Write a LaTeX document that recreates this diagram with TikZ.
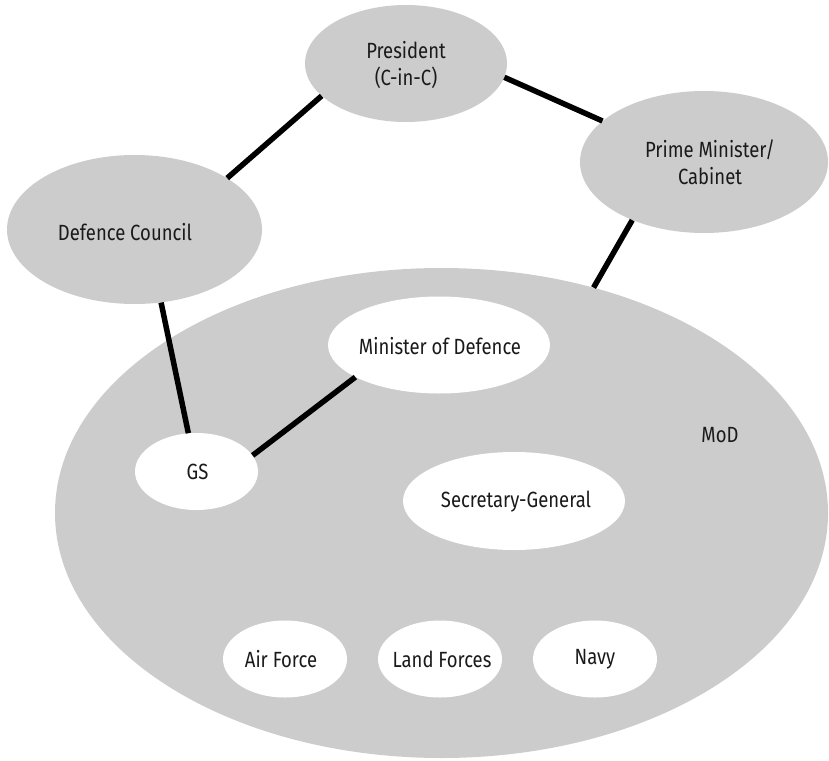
\documentclass[tikz,border=0pt]{standalone}
\usepackage{fontspec}
\setmainfont[FakeStretch=0.84]{Fira Sans}
\usetikzlibrary{shapes.geometric}
\definecolor{blobgray}{HTML}{CCCCCC}
\definecolor{inktext}{HTML}{1A1A1A}
\tikzset{
  caption/.style={text=inktext, align=center, inner sep=0pt,
    font=\fontsize{22}{27}\selectfont},
  blob/.style={ellipse, fill=blobgray, inner sep=0pt},
  hole/.style={blob, fill=white},
  link/.style={line width=5.5pt, black}
}
\begin{document}
\begin{tikzpicture}[x=1pt,y=-1pt]
  \useasboundingbox (0,0) rectangle (829,760);
  % the ministry as a large field
  \node[blob, minimum width=773pt, minimum height=490pt] (mod) at (441.5,513) {};
  \node[caption] (modlabel) at (720,435) {MoD};
  % bodies outside the ministry
  \node[blob, minimum width=202pt, minimum height=117pt] (pres) at (406,63.5) {};
  \node[caption] (preslabel) at (406,65) {President\\(C-in-C)};
  \node[blob, minimum width=248pt, minimum height=142pt] (pm) at (704,162) {};
  \node[caption] (pmlabel) at (710,162) {Prime Minister/\\Cabinet};
  \node[blob, minimum width=255pt, minimum height=149pt] (dc) at (134.5,229.5) {};
  \node[caption] (dclabel) at (125,232) {Defence Council};
  % bodies inside the ministry
  \node[hole, minimum width=222pt, minimum height=97pt] (min) at (439,345) {};
  \node[caption] (minlabel) at (440,346) {Minister of Defence};
  \node[hole, minimum width=123pt, minimum height=77pt] (gs) at (196.5,471.5) {};
  \node[caption] (gslabel) at (197.5,472) {GS};
  \node[hole, minimum width=222pt, minimum height=98pt] (sg) at (514,501) {};
  \node[caption] (sglabel) at (516,502) {Secretary-General};
  \node[hole, minimum width=124pt, minimum height=77pt] (af) at (285,659) {};
  \node[caption] (aflabel) at (281,659) {Air Force};
  \node[hole, minimum width=124pt, minimum height=77pt] (lf) at (440,659) {};
  \node[caption] (lflabel) at (442,659) {Land Forces};
  \node[hole, minimum width=124pt, minimum height=77pt] (navy) at (595,659) {};
  \node[caption] (navylabel) at (595,659) {Navy};
  % lines of authority
  \draw[link] (pres.201.7) -- (dc.29.6);
  \draw[link] (pres.352) -- (pm.158);
  \draw[link] (pm.219.8) -- (mod.56.3);
  \draw[link] (dc.290.5) -- (gs.102.5);
  \draw[link] (min.201.9) -- (gs.16.3);
\end{tikzpicture}
\end{document}
